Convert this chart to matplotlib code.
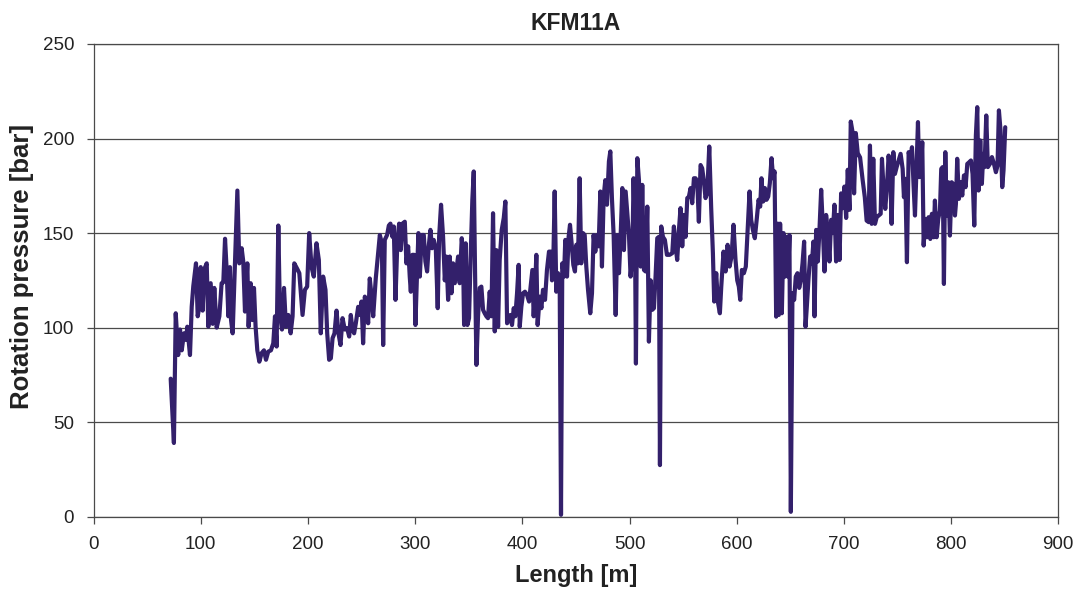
import matplotlib
matplotlib.use("Agg")
import matplotlib.pyplot as plt
import numpy as np

plt.rcParams['font.family'] = ['Liberation Sans', 'DejaVu Sans']

# borehole length [m] and rotation pressure [bar]
length = [
	72, 75, 76.7, 79, 80.7, 82.3, 84.4, 86.3, 87.5, 90, 91.6, 93.1, 95.6, 97.2, 98.7,
	100, 101.8, 103.4, 105.6, 107.1, 109.3, 111.2, 112.7, 114.9, 117.4, 119.5, 121.1,
	122.7, 124.2, 125.8, 127.3, 128.3, 129.8, 132, 134.2, 136, 138.2, 139.7, 141.3,
	143.5, 144.7, 146.6, 148.1, 149.7, 151.2, 152.8, 154.7, 156.8, 159, 160.9, 163,
	165.5, 167.7, 169.3, 170.8, 172.4, 173.9, 175.8, 177.7, 179.5, 181.7, 183.9, 185.7,
	187.3, 190.1, 192, 195, 197.2, 199.3, 201.2, 203.4, 205.5, 208, 210.2, 212, 214.2,
	216.4, 218, 219.8, 221.4, 223, 224.8, 226.7, 228.5, 230.4, 232.3, 234.4, 236.6,
	238.5, 240, 241.6, 243.1, 244.7, 246.9, 248.4, 250, 251.5, 253.1, 254.6, 256.2,
	257.7, 259.3, 260.9, 263.3, 264.9, 267.1, 269, 270.2, 271.7, 273.9, 275.5, 277,
	278.9, 280.1, 281.7, 283.5, 285.1, 286.6, 288.2, 290.4, 291.9, 293.5, 295, 296,
	297.5, 299.1, 300.3, 301.9, 303.1, 304.4, 306.2, 308.1, 309.6, 311.2, 312.7, 314.3,
	315.8, 317.4, 319.3, 321.1, 322.4, 324.2, 326.1, 327.7, 329.2, 330.8, 332.3, 333.9,
	335.4, 337, 338.5, 340.1, 341.6, 343.5, 344.7, 345.7, 347.2, 348.8, 350.3, 351.9,
	353.4, 354.7, 355.9, 357.2, 358.7, 360.3, 361.8, 363.4, 364.9, 366.5, 368, 369.6,
	371.2, 372.7, 374.3, 375.8, 377.4, 378.9, 380.8, 382.7, 384.2, 385.8, 387.3, 388.9,
	390.4, 392, 393.5, 395.1, 396.6, 397.6, 399.1, 400.7, 402.5, 404.4, 406.3, 407.8,
	409.4, 410.6, 411.9, 413.1, 414.3, 416.2, 417.8, 419.3, 421.2, 423, 424.9, 426.5,
	427.7, 428.9, 430.2, 431.7, 433.3, 434.9, 436.1, 437.3, 438.9, 440.1, 441.7, 443.2,
	444.5, 446, 447.6, 449.1, 450.4, 451.9, 453.5, 455, 456.6, 458.2, 459.7, 461.3,
	463.4, 465, 466.5, 468.1, 469.7, 471.2, 472.8, 474.3, 475.9, 477.4, 479, 480.8,
	482.1, 483.6, 485.2, 487.1, 488.6, 490.2, 491.7, 493.3, 494.8, 496.4, 497.9, 499.5,
	501, 502.6, 503.8, 505.1, 506, 507.3, 508.8, 510.4, 511.9, 513.5, 515, 516.6, 518.1,
	519.7, 521.2, 522.8, 524.3, 525.9, 527.4, 528.4, 529.6, 531.2, 533, 534.9, 537.4,
	539.9, 541.4, 543, 544.5, 546.1, 547.6, 549.2, 550.7, 552.3, 553.9, 555.4, 557,
	558.5, 560.1, 561.6, 563.2, 564.7, 566.3, 567.8, 569.4, 570.9, 572.5, 574.4, 576.2,
	577.8, 579, 580.9, 582.4, 584.3, 585.6, 587.7, 589.6, 591.5, 593.3, 595.2, 597,
	598.9, 600.5, 602, 603.3, 604.8, 606.7, 608.5, 610.4, 612, 613.5, 615.1, 616.9,
	618.8, 620.4, 621.9, 623.1, 624.7, 626.3, 627.8, 629.4, 630.9, 632.5, 634, 635.3,
	636.8, 638.4, 639.3, 640.5, 642.1, 643.7, 645.2, 646.8, 648, 649.2, 650.5, 652,
	653.6, 655.1, 656.7, 658.3, 659.8, 661.4, 662.9, 664.2, 665.4, 667, 668.5, 670.1,
	671.6, 672.6, 674.1, 675.7, 677.2, 678.8, 680.3, 681.9, 683.4, 685, 686.5, 688.1,
	689.6, 691.2, 692.7, 694.3, 695.9, 697.4, 699, 700.5, 702.1, 703.6, 705.2, 706.4,
	708, 709.5, 711.1, 712.9, 715.1, 717.5, 719.5, 721.2, 723.1, 724.3, 725.9, 727.4,
	729, 730.6, 732.4, 734.3, 735.5, 737.1, 738.6, 740.2, 741.7, 743.3, 744.5, 746.1,
	747.6, 749.2, 751.1, 752.9, 754.8, 756, 757.3, 758.8, 760.4, 761.9, 763.5, 765,
	766.3, 767.8, 769.1, 770.3, 771.9, 773.1, 774.4, 775.9, 777.5, 779, 780.6, 782.1,
	783.7, 784.9, 786.5, 788, 789.6, 790.8, 792.1, 793.3, 794.6, 795.8, 797.4, 798.9,
	800.5, 802, 803.6, 804.5, 805.7, 807.3, 808.9, 810.4, 812, 813.5, 815.1, 816.9,
	818.5, 820, 821.6, 823.1, 824.4, 825.6, 827.2, 828.7, 830, 831.2, 832.8, 834.3,
	836.2, 838.1, 840, 841.8, 843.3, 844.6, 846.1, 847.7, 848.9, 850.5,
]
pressure = [
	73, 39, 107.6, 85.5, 99, 88, 97, 93.5, 100.5, 85.5, 111, 122, 134, 106, 111,
	132, 109, 131, 134, 100.5, 123.5, 102, 121, 100, 106, 123.5, 124,
	147, 130.5, 106, 132, 104, 97, 134, 172.5, 134, 142, 135, 108.5,
	134, 100.5, 123.5, 104, 121, 100.5, 88, 82, 86.5, 88, 83, 87.3,
	88, 91.7, 106, 90, 154, 107.6, 99, 121, 100.5, 106.7, 97, 106,
	134, 131, 128.8, 106.7, 120, 121.7, 150, 132, 127, 144.6, 135.8, 97, 127,
	120, 97, 83, 83.8, 94.4, 97, 109, 97, 90.8, 105, 99, 99.7,
	95.3, 106.7, 99, 97, 102.3, 111, 106.7, 113.8, 91.7, 116.4, 112, 102.3,
	126, 117.3, 106, 126, 135.8, 149, 144.6, 90.8, 146.4, 149, 154, 155,
	148, 153.5, 114.7, 146.4, 155, 141, 155, 156, 134, 143, 127, 119,
	138.5, 138.5, 101.4, 130.5, 150, 127, 149, 149, 135, 129.7, 143, 151.7,
	142, 146.4, 142, 110.3, 148, 165, 148, 125, 137.6, 114.7, 137.6, 118.2,
	134, 123.5, 130.5, 137.6, 123.5, 147.3, 139.4, 101.4, 144.6, 101.4, 105, 139.4,
	167.6, 182.6, 130.5, 80.3, 106, 121, 121.7, 109.4, 107.6, 106, 105, 119,
	106, 160.5, 98, 141, 100.5, 135.8, 151.7, 158, 166.7, 102.3, 104, 106.7,
	101.4, 110.3, 106, 118.2, 133.2, 100.5, 111, 118.2, 119, 117.3, 113.8, 121.7,
	130.5, 106, 121, 138.5, 101.4, 116.4, 110.3, 120, 114.7, 130.5, 140.2, 140.2,
	125, 134, 172, 119, 128.8, 121.7, 1, 134, 127, 146.4, 127, 148,
	154.4, 144.6, 133.2, 129.7, 143.8, 134, 179, 134, 150, 149, 132.3, 120,
	107.6, 118.2, 149, 140.2, 149, 143, 172, 132.3, 169.3, 178, 165, 187.9,
	193.2, 168.5, 149, 106.7, 149, 128.8, 148, 173.8, 141, 172, 160.5, 149,
	127, 137.6, 179, 149, 81, 189.6, 178, 132.3, 175.5, 130.5, 129.7, 164, 92.6,
	125, 109.4, 110.3, 127, 147.3, 148, 27.3, 153.5, 148, 146.4, 138.5, 138.5,
	139.4, 153.5, 143, 135.8, 151.7, 163.2, 143, 159.6, 148, 168.5, 169.3, 173.8,
	165.8, 179, 179, 177.3, 156, 186, 184.3, 177.3, 168.5, 171, 195.8, 163.2,
	139.4, 113.8, 128.8, 113.8, 107.6, 121.7, 140.2, 129.7, 143.8, 132.3, 137.6, 154.4,
	135.8, 125, 121.7, 114.7, 130.5, 128.8, 132.3, 153.5, 172, 157, 151.7, 147.3,
	158, 167.6, 164, 179, 166.7, 173.8, 167.6, 169.3, 176.4, 189.6, 179, 182.6,
	105.8, 155, 106.7, 155, 107.6, 150, 127, 148, 127, 149, 2.6, 118.2,
	114.7, 127, 128.8, 121, 125, 134, 145.5, 100.5, 111, 126, 137.6, 134,
	145.5, 106, 151.7, 135, 151.7, 172.9, 153.5, 129.7, 159.6, 150.8, 135, 157,
	150, 165, 135, 159.6, 135.8, 171, 163.2, 174.6, 158, 183.5, 162.3, 209,
	203.7, 171, 202.9, 192.3, 190, 178, 169, 156.6, 155.8, 196.3, 154.9, 189.3,
	154.9, 158.4, 159.3, 160.2, 189.3, 172.5, 162.8, 175.2, 191, 181.3, 154.9, 192.8,
	181.3, 184.9, 188.4, 191.9, 184, 169, 178.7, 134.6, 192.8, 188.4, 195.4, 175.2,
	159.3, 184.9, 208.7, 179.6, 184, 198.1, 143.4, 157.5, 147.8, 158.4, 146.9, 160.2,
	147.8, 167.2, 147.8, 157.5, 161.9, 184, 184.9, 123.1, 192.8, 159.3, 176.9, 148.7,
	176.9, 176, 159.3, 165.5, 189.3, 168.1, 176.9, 169.9, 180.5, 174.3, 186.6, 187.5,
	188.4, 181.3, 154, 201.6, 216.6, 172.5, 199, 176, 191.9, 184.9, 212.2, 184.9,
	186.6, 190.2, 186.6, 182.2, 185.7, 214.9, 204.3, 174.3, 183.1, 206,
]

x_ticks = np.arange(0, 901, 100)
y_ticks = np.arange(0, 251, 50)

fig = plt.figure(figsize=(10.81, 5.89), dpi=100)
ax = fig.add_axes([0.0865, 0.1227, 0.8925, 0.8026])

ax.plot(length, pressure, color='#33206b', lw=3.0,
	solid_joinstyle='round', solid_capstyle='round')

ax.set_xlim(0, 900)
ax.set_ylim(0, 250)
ax.set_xticks(x_ticks)
ax.set_yticks(y_ticks)
ax.yaxis.grid(True, color='#4a4a4a', lw=0.9)
ax.set_axisbelow(True)
for s in ax.spines.values():
	s.set_color('#4a4a4a')
	s.set_linewidth(0.9)
ax.tick_params(direction='out', length=5, width=0.9, color='#4a4a4a',
	labelsize=13.5, labelcolor='#222222', pad=9)

ax.set_title('KFM11A', fontsize=16.5, fontweight='bold', color='#222222', pad=10)
ax.set_xlabel('Length [m]', fontsize=17, fontweight='bold', color='#222222', labelpad=8)
ax.set_ylabel('Rotation pressure [bar]', fontsize=18.5, fontweight='bold', color='#222222')
ax.yaxis.set_label_coords(-0.062, 0.53)

fig.savefig('out.png', dpi=100)
